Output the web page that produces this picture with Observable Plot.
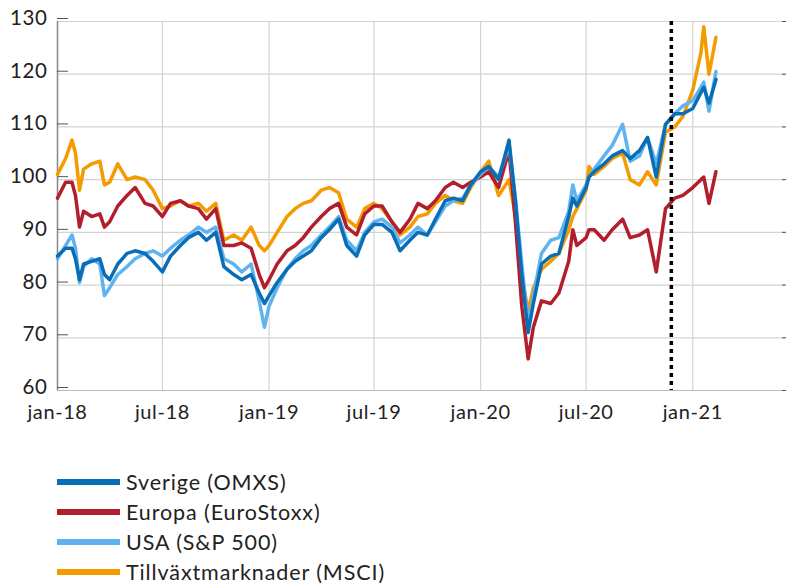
<!DOCTYPE html>
<html>
<head>
<meta charset="utf-8">
<script src="https://cdn.jsdelivr.net/npm/d3@7"></script>
<script src="https://cdn.jsdelivr.net/npm/@observablehq/plot@0.6"></script>
<style>
  body { margin: 0; background: #fff; font-family: Lato, "Noto Sans", sans-serif; }
  #legend { margin-left: 57px; margin-top: 27px; font-size: 21.5px; letter-spacing: 0.9px; color: #222; }
  .item { display: flex; align-items: center; height: 30px; }
  .sw { width: 63px; height: 6px; margin-right: 6px; }
</style>
</head>
<body>
<div id="chart"></div>
<div id="legend"></div>
<script>
const dates = [
  "2018-01-01","2018-01-15","2018-01-26","2018-02-01","2018-02-08","2018-02-15","2018-03-01","2018-03-15","2018-03-23","2018-04-01","2018-04-15","2018-05-01","2018-05-15","2018-06-01","2018-06-15","2018-07-01","2018-07-15","2018-08-01","2018-08-15","2018-09-01","2018-09-15","2018-10-01","2018-10-15","2018-11-01","2018-11-15","2018-12-01","2018-12-15","2018-12-24",
  "2019-01-01","2019-01-15","2019-02-01","2019-02-15","2019-03-01","2019-03-15","2019-04-01","2019-04-15","2019-05-01","2019-05-15","2019-06-01","2019-06-15","2019-07-01","2019-07-15","2019-08-01","2019-08-15","2019-09-01","2019-09-15","2019-10-01","2019-10-15","2019-11-01","2019-11-15","2019-12-01","2019-12-15",
  "2020-01-01","2020-01-15","2020-02-01","2020-02-19","2020-03-01","2020-03-12","2020-03-23","2020-04-01","2020-04-15","2020-05-01","2020-05-15","2020-06-01","2020-06-08","2020-06-15","2020-07-01","2020-07-06","2020-07-15","2020-08-01","2020-08-15","2020-09-02","2020-09-15","2020-10-01","2020-10-15","2020-10-30","2020-11-15","2020-12-01","2020-12-15",
  "2021-01-01","2021-01-15","2021-01-20","2021-01-29","2021-02-10"
];

const sverigeOMXS = [
  85.5, 87, 87, 85, 81, 84, 84.5, 85, 82, 81, 84, 86, 86.5, 86, 84.5, 82.5, 85.5, 87.5, 89, 90, 88.5, 90, 83.5, 82, 81, 82, 78.5, 76.5,
  78, 80.5, 83, 84.5, 85.5, 86.5, 89, 90.5, 92.5, 87.5, 85.5, 89.5, 91.5, 91.5, 90, 86.5, 88.5, 90, 89.5, 92.5, 96, 96.5, 96, 99,
  101.5, 102.5, 100, 107.5, 96, 82, 71, 76.5, 84, 85.5, 86, 93, 96.5, 95, 98.5, 100.5, 101.5, 103, 104.5, 105.5, 104, 105.5, 108, 100.5, 110.5, 112.5, 112.5,
  113.5, 116.5, 117.5, 114.5, 119
];
const europaEuroStoxx = [
  96.5, 99.5, 99.5, 97, 91, 94, 93, 93.5, 91, 92, 95, 97, 98.5, 95.5, 95, 93, 95.5, 96, 95, 94.5, 92.5, 94.5, 87.5, 87.5, 88, 87, 82, 79.5,
  81, 84, 86.5, 87.5, 89, 91, 93, 94.5, 95.5, 91, 89.5, 93.5, 95, 95, 92, 90, 92.5, 95.5, 94.5, 96, 98.5, 99.5, 98.5, 99.5,
  100.5, 101.5, 98.5, 105.5, 92, 76, 66, 72, 77, 76.5, 78.5, 84.5, 90.5, 87.5, 89, 90.5, 90.5, 88.5, 90.5, 92.5, 89, 89.5, 90.5, 82.5, 94.5, 96.5, 97,
  98.5, 100, 100.5, 95.5, 101.5
];
const usaSP500 = [
  85, 87.5, 89.5, 87, 80.5, 83.5, 85, 84, 78, 79.5, 82, 83.5, 85, 86, 86.5, 85.5, 87, 88.5, 89.5, 91, 90, 91, 85, 84, 82.5, 84, 77, 72,
  76, 79.5, 83, 85, 86.5, 87.5, 89.5, 91, 93, 88.5, 86.5, 90, 92, 92.5, 91, 88, 89.5, 91, 89.5, 92, 95, 96, 96.5, 99,
  101, 102.5, 100.5, 106.5, 96.5, 84, 72.5, 78, 86, 88.5, 89, 94, 99, 96, 99, 100.5, 102, 104.5, 106.5, 110.5, 103.5, 104.5, 108, 103, 110.5, 112.5, 114,
  115, 117.5, 118.5, 113, 120.5
];
const tillvaxtMSCI = [
  101, 104, 107.5, 105, 98, 102, 103, 103.5, 99, 99.5, 103, 100, 100.5, 100, 98, 94.5, 95, 96, 95, 95.5, 94, 95.5, 88.5, 89.5, 88.5, 91, 87.5, 86.5,
  87.5, 90, 93, 94.5, 95.5, 96, 98, 98.5, 97.5, 92.5, 91, 94.5, 95.5, 94.5, 92, 89.5, 91, 93, 93.5, 95.5, 97, 96, 95.5, 98.5,
  101.5, 103.5, 97, 100, 93, 82, 75, 79.5, 83, 84.5, 86, 90.5, 93, 94.5, 98, 102.5, 101, 102.5, 104, 105, 100, 99, 101.5, 99, 109, 110, 112,
  117, 124, 129, 120, 127
];

const seriesNames = ["Sverige (OMXS)", "Europa (EuroStoxx)", "USA (S&P 500)", "Tillväxtmarknader (MSCI)"];
const seriesColors = ["#0a6eb6", "#b31e2d", "#5fb4ef", "#f49b00"];
const seriesValues = [sverigeOMXS, europaEuroStoxx, usaSP500, tillvaxtMSCI];

const xTickDates = ["2018-01-01","2018-07-01","2019-01-01","2019-07-01","2020-01-01","2020-07-01","2021-01-01"];
const xTickLabels = ["jan-18","jul-18","jan-19","jul-19","jan-20","jul-20","jan-21"];
const yTicks = [60, 70, 80, 90, 100, 110, 120, 130];
const xDomain = ["2018-01-01", "2021-06-10"];
const markerDate = "2020-11-25";

const rows = seriesValues.map((vals, s) =>
  dates.map((d, i) => ({date: new Date(d), value: vals[i], series: seriesNames[s]}))
);
const xTicks = xTickDates.map(d => new Date(d));
const labelFor = d => xTickLabels[xTickDates.indexOf(d.toISOString().slice(0, 10))];

// drawing order: orange, red, light blue, dark blue
const order = [3, 1, 2, 0];

const chart = Plot.plot({
  width: 787,
  height: 440,
  marginLeft: 57,
  marginRight: 2,
  marginTop: 21,
  marginBottom: 50,
  style: {fontFamily: "Lato, 'Noto Sans', sans-serif", fontSize: "20px", color: "#222", background: "#fff", overflow: "visible", letterSpacing: "0.6px"},
  x: {type: "utc", domain: xDomain.map(d => new Date(d))},
  y: {domain: [60, 130]},
  marks: [
    Plot.gridY(yTicks, {stroke: "#d3d3d3", strokeOpacity: 1, strokeWidth: 1.2}),
    Plot.gridX(xTicks, {stroke: "#d3d3d3", strokeOpacity: 1, strokeWidth: 1.2}),
    Plot.ruleX([new Date(xDomain[0])], {stroke: "#8a8a8a", strokeWidth: 1.5}),
    Plot.ruleY([60], {stroke: "#bdbdbd", strokeWidth: 1.2}),
    Plot.axisY(yTicks, {anchor: "left", tickSize: -11, tickPadding: 21, stroke: "#555", label: null, dy: -3, fontSize: 20.5, fill: "#222"}),
    Plot.axisY(yTicks, {anchor: "right", tickSize: -4, tickFormat: () => "", stroke: "#555", label: null}),
    Plot.axisX(xTicks, {anchor: "bottom", tickSize: 0, tickPadding: 14, tickFormat: labelFor, label: null, fontSize: 20, fill: "#222"}),
    ...order.map(s => Plot.line(rows[s], {x: "date", y: "value", stroke: seriesColors[s], strokeWidth: 3.5, strokeLinejoin: "round"})),
    Plot.ruleX([new Date(markerDate)], {stroke: "#000", strokeWidth: 3.5, strokeDasharray: "4,4"})
  ]
});
document.getElementById("chart").appendChild(chart);

const legend = document.getElementById("legend");
seriesNames.forEach((name, i) => {
  const item = document.createElement("div");
  item.className = "item";
  const sw = document.createElement("div");
  sw.className = "sw";
  sw.style.background = seriesColors[i];
  const label = document.createElement("span");
  label.textContent = name;
  item.appendChild(sw);
  item.appendChild(label);
  legend.appendChild(item);
});
</script>
</body>
</html>
